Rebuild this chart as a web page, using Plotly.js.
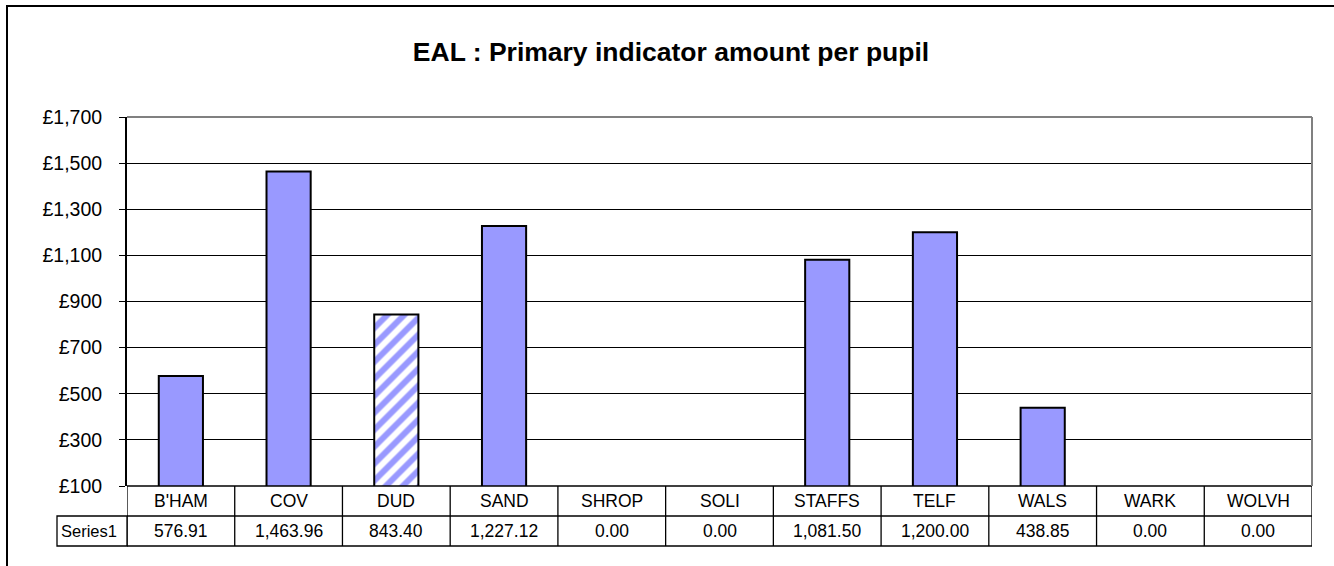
<!DOCTYPE html>
<html>
<head>
<meta charset="utf-8">
<script src="https://cdn.plot.ly/plotly-3.0.1.min.js"></script>
<style>
html,body{margin:0;padding:0;overflow:hidden;background:#fff;}
#chart{width:1334px;height:566px;position:absolute;left:0;top:0;}
#frame{position:absolute;left:6px;top:5px;width:1400px;height:700px;border-left:2px solid #000;border-top:2px solid #000;pointer-events:none;}
</style>
</head>
<body>
<div id="chart"></div>
<div id="frame"></div>
<script>
const categories = ["B'HAM","COV","DUD","SAND","SHROP","SOLI","STAFFS","TELF","WALS","WARK","WOLVH"];
const values = [576.91, 1463.96, 843.40, 1227.12, 0.00, 0.00, 1081.50, 1200.00, 438.85, 0.00, 0.00];
const patterns = ["", "", "/", "", "", "", "", "", "", "", ""];
const seriesName = "Series1";
const yTicks = [100, 300, 500, 700, 900, 1100, 1300, 1500, 1700];

function fmt(v){
  const parts = v.toFixed(2).split('.');
  parts[0] = parts[0].replace(/\B(?=(\d{3})+(?!\d))/g, ',');
  return parts.join('.');
}

const L = 127, R = 1312, T = 117, B = 486, W = 1334, H = 566;
const plotH = B - T, plotW = R - L;
const rowH = 30 / plotH;
const font = 'Liberation Sans, Arial, sans-serif';

const shapes = [];
const annotations = [];
[0, -rowH, -2*rowH].forEach(y => {
  shapes.push({type:'line', xref:'paper', yref:'paper', x0:0, x1:1, y0:y, y1:y, line:{color:'#000', width:1.3}});
});
for (let k = 0; k <= categories.length; k++) {
  shapes.push({type:'line', xref:'x', yref:'paper', x0:k-0.5, x1:k-0.5, y0:0, y1:-2*rowH, line:{color:'#000', width:1.3}});
}
const sx = (57 - L) / plotW;
shapes.push({type:'rect', xref:'paper', yref:'paper', x0:sx, x1:0, y0:-2*rowH, y1:-rowH, line:{color:'#000', width:1.3}});
annotations.push({xref:'paper', yref:'paper', x:sx + 2/plotW, y:-1.5*rowH, xanchor:'left', yanchor:'middle', text:seriesName, showarrow:false, font:{family:font, size:16.5, color:'#000'}});

categories.forEach((c, i) => {
  annotations.push({xref:'x', yref:'paper', x:i, y:-0.5*rowH, xanchor:'center', yanchor:'middle', text:c, showarrow:false, font:{family:font, size:17.5, color:'#000'}});
  annotations.push({xref:'x', yref:'paper', x:i, y:-1.5*rowH, xanchor:'center', yanchor:'middle', text:fmt(values[i]), showarrow:false, font:{family:font, size:17.5, color:'#000'}});
});
shapes.push({type:'line', xref:'paper', yref:'paper', x0:0, x1:1, y0:1, y1:1, line:{color:'#808080', width:2}});
shapes.push({type:'line', xref:'paper', yref:'paper', x0:1, x1:1, y0:0, y1:1, line:{color:'#808080', width:2}});

const trace = {
  type:'bar',
  x: categories,
  y: values,
  width: 0.41,
  marker:{
    color:'#9999FF',
    line:{color:'#000', width:2},
    pattern:{shape: patterns, fgcolor:'#9999FF', bgcolor:'#ffffff', size:12, solidity:0.5}
  },
  hoverinfo:'x+y'
};

const layout = {
  width: W, height: H,
  margin:{l:L, r:W-R, t:T, b:H-B, pad:0},
  paper_bgcolor:'#fff', plot_bgcolor:'#fff',
  showlegend:false,
  title:{text:'<b>EAL : Primary indicator amount per pupil</b>', x:0.503, xanchor:'center', y:1 - 52/H, yanchor:'middle', font:{family:font, size:26.5, color:'#000'}},
  xaxis:{type:'category', range:[-0.5, categories.length-0.5], showticklabels:false, showgrid:false, zeroline:false, showline:false, ticks:''},
  yaxis:{range:[100,1700], tickvals:yTicks, ticktext:yTicks.map(v => '£' + fmt(v).replace('.00','')), showgrid:true, gridcolor:'#000', gridwidth:1, zeroline:false,
         showline:true, linecolor:'#000', linewidth:2, ticks:'outside', ticklen:6, tickcolor:'#000', tickwidth:1,
         tickfont:{family:font, size:19.5, color:'#000'}, ticklabelstandoff:13},
  shapes: shapes,
  annotations: annotations,
  bargap: 0.59
};

Plotly.newPlot('chart', [trace], layout, {displayModeBar:false, staticPlot:true});
</script>
</body>
</html>
